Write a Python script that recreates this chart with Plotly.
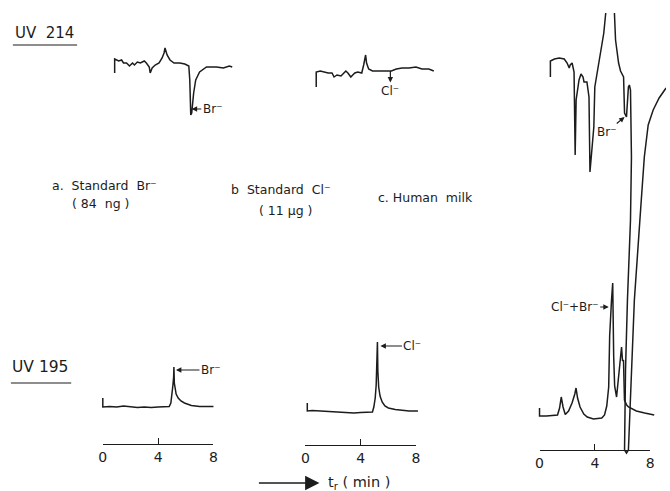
import plotly.graph_objects as go

W, H = 670, 491
INK = "#1c1c1c"
FONT = "DejaVu Sans"

# ---------------- data: retention time (min) / detector signal (relative units, baseline = 0)
# UV 214 nm
a214_t = [0, 0, 0.29, 0.5, 0.64, 0.86, 1.07, 1.29, 1.43, 1.64, 1.86, 2.14, 2.29, 2.5, 2.57, 2.71, 2.93, 3.21, 3.43, 3.57,
          3.64, 3.79, 4.0, 4.29, 4.71, 5.07, 5.36, 5.43, 5.5, 5.57, 5.71, 5.86, 6.14, 6.64, 7.36, 7.86, 8.29, 8.5]
a214_s = [-1.0, 0.4, 0.2, 0.3, 0, 0, -0.3, 0, -0.2, 0.1, 0, 0.2, 0, -0.4, -1.0, -0.5, -0.2, 0, 0.5, 1.0,
          1.5, 0.8, 0.3, 0, 0, -0.1, -0.3, -1.7, -5.2, -5.0, -3.0, -1.7, -0.9, -0.4, -0.4, -0.5, -0.3, -0.4]

b214_t = [0, 0, 0.29, 0.64, 0.86, 1.14, 1.29, 1.5, 1.79, 2.0, 2.14, 2.29, 2.5, 2.64, 2.79, 3.0, 3.29, 3.43, 3.57, 3.64,
          3.79, 4.07, 4.57, 5.07, 5.43, 5.79, 6.21, 6.71, 7.21, 7.64, 8.14, 8.5]
b214_s = [-1.7, -0.2, -0.1, -0.2, -0.3, -0.3, -0.7, -0.5, -0.6, -0.3, -0.1, -0.3, -0.7, -0.5, -0.3, -0.2, -0.3, 0.5, 1.5, 0.7,
          0.1, -0.1, -0.1, -0.1, -0.1, 0.1, 0.2, 0.2, 0.3, 0.1, 0.1, -0.1]

c214_t = [0, 0, 0.29, 0.64, 1.0, 1.21, 1.36, 1.43, 1.57, 1.71, 1.79, 1.86, 2.07, 2.21, 2.36, 2.43, 2.64, 2.79, 2.86, 2.95,
          3.14, 3.21, 3.43, 3.64, 3.86, 4.0, 4.14, 4.36, 4.5, 4.64, 4.71, 4.93, 5.07, 5.29, 5.36, 5.5, 5.64, 5.71, 5.79, 5.86,
          5.79, 5.57, 5.43, 5.36, 5.5, 5.64, 5.86, 6.07, 6.57, 6.79, 7.07, 7.43, 7.86, 8.36]
c214_s = [-1.7, -0.1, 0.1, 0.2, 0.1, -0.3, -0.8, -0.5, -0.3, -1.2, -9.5, -4.0, -2.0, -1.4, -1.7, -2.2, -2.2, -3.7, -11.2, -9.7,
          -6.7, -2.7, -1.0, 0.7, 2.7, 4.7, 6.5, 9.0, 9.0, 4.7, 2.0, -0.3, -1.1, -1.7, -5.3, -5.7, -2.7, -2.5, -3.0, -9.7,
          -16, -24, -31, -39, -39.3, -39, -31, -24, -14, -9.7, -6.5, -5.0, -3.8, -2.8]

# UV 195 nm
a195_t = [0, 0, 0.5, 1.0, 1.5, 2.0, 2.5, 3.0, 3.5, 4.0, 4.5, 4.8, 4.92, 5.0, 5.07, 5.12, 5.14, 5.17, 5.22, 5.3,
          5.45, 5.65, 5.9, 6.4, 7.0, 7.5, 8.0]
a195_s = [0.9, 0, 0.05, 0, 0.1, 0, -0.05, 0, -0.05, 0, 0, 0.05, 0.4, 1.2, 2.2, 3.0, 4.0, 2.4, 1.7, 1.3,
          0.9, 0.6, 0.4, 0.15, 0.05, 0.05, 0.05]

b195_t = [0.14, 0.14, 0.5, 1.0, 1.5, 2.0, 2.5, 3.0, 3.5, 4.0, 4.5, 4.85, 4.95, 5.05, 5.12, 5.18, 5.21, 5.24, 5.3, 5.4,
          5.55, 5.75, 6.0, 6.5, 7.0, 7.5, 8.14]
b195_s = [0.8, 0, 0.05, 0, -0.05, -0.1, -0.1, -0.15, -0.2, -0.15, -0.15, -0.1, 0.4, 1.3, 2.6, 4.5, 6.9, 4.0, 2.4, 1.5,
          0.9, 0.5, 0.3, 0.15, 0.05, 0.0, 0.0]

c195_t = [0, 0, 0.5, 1.0, 1.3, 1.45, 1.57, 1.7, 1.86, 2.1, 2.35, 2.55, 2.64, 2.75, 2.93, 3.2, 3.45, 3.9, 4.5, 4.7,
          4.86, 5.0, 5.07, 5.2, 5.29, 5.36, 5.43, 5.57, 5.7, 5.86, 5.93, 6.0, 6.07, 6.14, 6.3, 6.43, 7.0, 7.6, 8.29]
c195_s = [0.8, 0, 0, 0.05, 0.1, 0.8, 1.9, 0.9, 0.15, 0.5, 1.3, 2.2, 2.8, 1.8, 0.9, 0.2, -0.1, -0.3, -0.2, 0.1,
          1.0, 2.9, 8.0, 11.5, 13.3, 6.0, 3.0, 1.9, 3.5, 5.9, 6.9, 5.5, 5.6, 1.6, 1.1, 0.9, 0.5, 0.3, 0.1]

scale_ticks = [0, 4, 8]
scale_labels = ["0", "4", "8"]

# ---------------- layout geometry (pixels)
PX_MIN = 14.0   # pixels per minute
PX_UNIT = 10.0  # pixels per signal unit


def xdom(l, r):
    return [l / W, r / W]


def ydom(top, bot):
    return [1 - bot / H, 1 - top / H]


panels = [
    # (trace t, trace s, x-dom px, t0 px, y-dom px, baseline px)
    (a214_t, a214_s, (104, 240), 112, (25, 135), 63),
    (b214_t, b214_s, (308, 445), 316, (35, 105), 70),
    (c214_t, c214_s, (545, 670), 553, (13, 470), 60),
    (a195_t, a195_s, (92, 225), 100, (340, 425), 407),
    (b195_t, b195_s, (296, 430), 305, (320, 428), 411),
    (c195_t, c195_s, (534, 668), 542, (260, 436), 416),
]
scales = [((100, 212), (436, 444)), ((305, 417), (437, 445)), ((542, 654), (442, 450))]

fig = go.Figure()
layout = dict(width=W, height=H, margin=dict(l=0, r=0, t=0, b=0), autosize=False,
              paper_bgcolor="white", plot_bgcolor="rgba(0,0,0,0)", showlegend=False)

n = 0
for t, s, (xl, xr), x0, (yt, yb), base in panels:
    n += 1
    xa, ya = ("x", "y") if n == 1 else (f"x{n}", f"y{n}")
    fig.add_trace(go.Scatter(x=t, y=s, mode="lines", xaxis=xa, yaxis=ya,
                             line=dict(color=INK, width=1.5), hoverinfo="skip"))
    kx = "xaxis" if n == 1 else f"xaxis{n}"
    ky = "yaxis" if n == 1 else f"yaxis{n}"
    layout[kx] = dict(domain=xdom(xl, xr), range=[(xl - x0) / PX_MIN, (xr - x0) / PX_MIN],
                      anchor=ya, visible=False, fixedrange=True)
    layout[ky] = dict(domain=ydom(yt, yb), range=[(base - yb) / PX_UNIT, (base - yt) / PX_UNIT],
                      anchor=xa, visible=False, fixedrange=True)

for (xl, xr), (yt, yb) in scales:
    n += 1
    xa, ya = f"x{n}", f"y{n}"
    fig.add_trace(go.Scatter(x=[None], y=[None], xaxis=xa, yaxis=ya, mode="lines", hoverinfo="skip"))
    layout[f"xaxis{n}"] = dict(domain=xdom(xl, xr), range=[0, 8], anchor=ya, showline=True,
                               linecolor=INK, linewidth=1.3, ticks="inside", ticklen=6, tickwidth=1.3,
                               tickcolor=INK, tickvals=scale_ticks, ticktext=scale_labels,
                               showgrid=False, zeroline=False, fixedrange=True,
                               tickfont=dict(family=FONT, size=14, color=INK))
    layout[f"yaxis{n}"] = dict(domain=ydom(yt, yb), range=[0, 1], anchor=xa, visible=False, fixedrange=True)


def label(text, left, cy, size=12.5):
    return dict(text=text, xref="paper", yref="paper", x=left / W, y=1 - cy / H,
                xanchor="left", yanchor="middle", showarrow=False,
                font=dict(family=FONT, size=size, color=INK))


def peak_note(text, axn, t, s, ax, ay, side="end", size=12):
    xr = "x" if axn == 1 else f"x{axn}"
    yr = "y" if axn == 1 else f"y{axn}"
    return dict(text=text, xref=xr, yref=yr, x=t, y=s, ax=ax, ay=ay, showarrow=True,
                arrowhead=2, arrowsize=0.9, startarrowhead=2, startarrowsize=0.9,
                arrowwidth=1.2, arrowcolor=INK, arrowside=side,
                standoff=0, startstandoff=0, font=dict(family=FONT, size=size, color=INK))


annotations = [
    label("UV  214", 9, 33, 15),
    label("UV 195", 6, 367, 15.5),
    label("a.  Standard  Br⁻", 47, 185),
    label("( 84  ng )", 67, 204),
    label("b  Standard  Cl⁻", 228, 190),
    label("( 11 μg )", 256, 210),
    label("c. Human  milk", 376, 198),
    # retention-time arrow: head drawn at the text side
    dict(text="t<sub>r</sub> ( min )", xref="paper", yref="paper", x=258 / W, y=1 - 483 / H,
         ax=100, ay=0, showarrow=True, arrowside="start", arrowhead=2, arrowsize=2.2,
         startarrowhead=2, startarrowsize=2.2,
         arrowwidth=1.3, arrowcolor=INK, standoff=0, startstandoff=7,
         font=dict(family=FONT, size=14.5, color=INK)),
    peak_note("Br⁻", 1, 5.57, -4.6, 21, 0),
    peak_note("Cl⁻", 2, 5.36, -0.1, 0, 20, side="start"),
    peak_note("Br⁻", 3, 5.36, -5.7, -18, 15),
    peak_note("Br⁻", 4, 5.29, 3.7, 35, 0),
    peak_note("Cl⁻", 5, 5.43, 6.5, 32, 0),
    peak_note("Cl⁻+Br⁻", 6, 5.0, 10.9, -34, 0),
]
layout["annotations"] = annotations
layout["shapes"] = [
    dict(type="line", xref="paper", yref="paper", x0=9 / W, x1=74 / W, y0=1 - 45 / H, y1=1 - 45 / H,
         line=dict(color=INK, width=1.2)),
    dict(type="line", xref="paper", yref="paper", x0=7 / W, x1=68 / W, y0=1 - 383 / H, y1=1 - 383 / H,
         line=dict(color=INK, width=1.2)),
]
fig.update_layout(**layout)
fig.write_html("out.html")
